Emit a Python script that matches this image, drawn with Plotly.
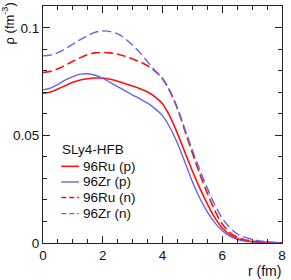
import plotly.graph_objects as go

r = [0, 0.25, 0.5, 0.75, 1, 1.25, 1.5, 1.75, 2, 2.25, 2.5, 2.75, 3, 3.25, 3.5, 3.75,
     4, 4.25, 4.5, 4.75, 5, 5.25, 5.5, 5.75, 6, 6.25, 6.5, 6.75, 7, 7.25, 7.5, 7.75, 8]

ru_p = [0.0696, 0.0702, 0.0716, 0.0732, 0.0747, 0.0758, 0.0764, 0.0767, 0.0767, 0.0761, 0.0752,
        0.0741, 0.0730, 0.0717, 0.0702, 0.0680, 0.0648, 0.0588, 0.0510, 0.0422, 0.0335, 0.0255,
        0.0182, 0.0118, 0.0070, 0.0040, 0.0021, 0.0012, 0.0007, 0.0004, 0.0002, 0.0001, 0.0001]
zr_p = [0.0712, 0.0720, 0.0738, 0.0758, 0.0774, 0.0785, 0.0787, 0.0780, 0.0766, 0.0747, 0.0727,
        0.0707, 0.0688, 0.0670, 0.0650, 0.0625, 0.0592, 0.0537, 0.0464, 0.0376, 0.0285, 0.0208,
        0.0145, 0.0095, 0.0057, 0.0032, 0.0017, 0.0009, 0.0005, 0.0003, 0.0002, 0.0001, 0.0001]
ru_n = [0.0793, 0.0798, 0.0810, 0.0827, 0.0845, 0.0862, 0.0876, 0.0884, 0.0886, 0.0884, 0.0878,
        0.0868, 0.0856, 0.0842, 0.0824, 0.0799, 0.0764, 0.0704, 0.0624, 0.0522, 0.0418, 0.0320,
        0.0232, 0.0152, 0.0088, 0.0050, 0.0027, 0.0015, 0.0009, 0.0005, 0.0003, 0.0002, 0.0001]
zr_n = [0.0870, 0.0874, 0.0885, 0.0903, 0.0924, 0.0946, 0.0965, 0.0980, 0.0986, 0.0983, 0.0972,
        0.0950, 0.0920, 0.0884, 0.0843, 0.0802, 0.0765, 0.0708, 0.0628, 0.0530, 0.0432, 0.0340,
        0.0255, 0.0178, 0.0115, 0.0072, 0.0043, 0.0027, 0.0017, 0.0010, 0.0006, 0.0003, 0.0002]

labels = ["96Ru (p)", "96Zr (p)", "96Ru (n)", "96Zr (n)"]
series = [ru_p, zr_p, ru_n, zr_n]
RED = "#ff1010"
BLUE = "#6464e8"
colors = [RED, BLUE, RED, BLUE]
dashes = ["solid", "solid", "9px,4px", "9px,4px"]
widths = [1.6, 1.4, 1.6, 1.4]
legend_title = "SLy4-HFB"

x_ticks = [0, 2, 4, 6, 8]
y_ticks = [0, 0.05, 0.1]
y_ticktext = ["0", "0.05", "0.1"]

FONT = "Liberation Sans, Arial, sans-serif"

fig = go.Figure()
for lab, ys, c, d, w in zip(labels, series, colors, dashes, widths):
    fig.add_trace(go.Scatter(x=r, y=ys, mode="lines", name=lab,
                             line=dict(color=c, dash=d, width=w, shape="spline", smoothing=1.0),
                             showlegend=False))

W, H = 291, 280
L, R, T, B = 43, 6, 5, 37
pw, ph = W - L - R, H - T - B


def px(x):
    return (x - L) / pw


def py(y):
    return (H - B - y) / ph


# legend drawn manually (compact rows)
fig.add_annotation(x=px(60), y=py(149), xref="paper", yref="paper", text=legend_title,
                   showarrow=False, xanchor="left", yanchor="middle",
                   font=dict(family=FONT, size=13.5, color="#111"))
rows = [166, 181.7, 197.3, 213.5]
for lab, c, d, w, yy in zip(labels, colors, dashes, widths, rows):
    fig.add_shape(type="line", xref="paper", yref="paper", x0=px(61.5), x1=px(79.5),
                  y0=py(yy), y1=py(yy),
                  line=dict(color=c, width=w, dash="5px,3px" if d != "solid" else "solid"))
    fig.add_annotation(x=px(81), y=py(yy), xref="paper", yref="paper", text=lab,
                       showarrow=False, xanchor="left", yanchor="middle",
                       font=dict(family=FONT, size=13.5, color="#111"))

# axis titles
fig.add_annotation(x=px(8), y=py(-1), xref="paper", yref="paper",
                   text="\u03c1 (fm<sup>-3</sup>)", textangle=-90, showarrow=False,
                   xanchor="center", yanchor="top",
                   font=dict(family=FONT, size=13, color="#111"))
fig.add_annotation(x=px(286), y=py(271), xref="paper", yref="paper",
                   text="r (fm)", showarrow=False, xanchor="right", yanchor="middle",
                   font=dict(family=FONT, size=14, color="#111"))

axis_common = dict(showline=True, linecolor="#222", linewidth=1.2, mirror="ticks",
                   ticks="inside", ticklen=7, tickwidth=1.2, tickcolor="#222",
                   showgrid=False, zeroline=False,
                   tickfont=dict(family=FONT, size=13.5, color="#111"))

fig.update_xaxes(range=[0, 8], tickvals=x_ticks, ticktext=[str(v) for v in x_ticks],
                 minor=dict(ticks="inside", ticklen=4, dtick=0.5, tickcolor="#222", tickwidth=1.1,
                            showgrid=False),
                 **axis_common)
fig.update_yaxes(range=[0, 0.1102], tickvals=y_ticks, ticktext=y_ticktext,
                 minor=dict(ticks="inside", ticklen=4, dtick=0.01, tickcolor="#222", tickwidth=1.1,
                            showgrid=False),
                 **axis_common)

fig.update_layout(width=W, height=H, margin=dict(l=L, r=R, t=T, b=B, pad=0),
                  plot_bgcolor="white", paper_bgcolor="white", showlegend=False)

fig.write_html("out.html", config={"displayModeBar": False},
               post_script="document.body.style.margin='0';document.body.style.overflow='hidden';")
